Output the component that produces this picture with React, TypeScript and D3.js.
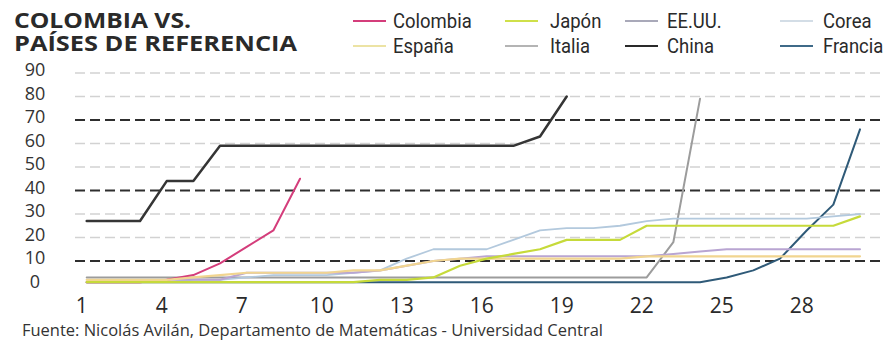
import React from "react";
import * as d3 from "d3";

// Days since the first reported case
const days: number[] = d3.range(1, 31);

// Cumulative confirmed cases per country, one value per day
const colombia = [1, 1, 1, 2, 4, 9, 16, 23, 45];
const espana = [2, 2, 2, 2, 3, 4, 5, 5, 5, 5, 6, 6, 8, 10, 11, 11, 11, 11, 11, 11, 11, 12, 12, 12, 12, 12, 12, 12, 12, 12];
const japon = [1, 1, 1, 1, 1, 1, 1, 1, 1, 1, 1, 2, 2, 3, 8, 11, 13, 15, 19, 19, 19, 25, 25, 25, 25, 25, 25, 25, 25, 29];
const italia = [3, 3, 3, 3, 3, 3, 3, 3, 3, 3, 3, 3, 3, 3, 3, 3, 3, 3, 3, 3, 3, 3, 18, 79];
const eeuu = [1, 1, 1, 2, 2, 2, 5, 5, 5, 5, 5, 6, 8, 10, 11, 12, 12, 12, 12, 12, 12, 12, 13, 14, 15, 15, 15, 15, 15, 15];
const china = [27, 27, 27, 44, 44, 59, 59, 59, 59, 59, 59, 59, 59, 59, 59, 59, 59, 63, 80];
const corea = [1, 1, 1, 1, 2, 2, 3, 4, 4, 4, 5, 6, 11, 15, 15, 15, 19, 23, 24, 24, 25, 27, 28, 28, 28, 28, 28, 28, 29, 30];
const francia = [1, 1, 1, 1, 1, 1, 1, 1, 1, 1, 1, 1, 1, 1, 1, 1, 1, 1, 1, 1, 1, 1, 1, 1, 3, 6, 11, 23, 34, 66];

// Axis ticks
const yTicks = [0, 10, 20, 30, 40, 50, 60, 70, 80, 90];
const strongTicks = [10, 40, 70];
const xTicks = [1, 4, 7, 10, 13, 16, 19, 22, 25, 28];

type Series = {
  name: string;
  values: number[];
  color: string;
  legendColor: string;
  width: number;
  row: number;
  col: number;
};

// Listed in drawing order (later ones on top)
const series: Series[] = [
  { name: "Francia", values: francia, color: "#2f5a78", legendColor: "#3f6a88", width: 2, row: 1, col: 3 },
  { name: "Italia", values: italia, color: "#9c9c9c", legendColor: "#b4b4b4", width: 2, row: 1, col: 1 },
  { name: "Corea", values: corea, color: "#b3c9dd", legendColor: "#d3dde6", width: 1.8, row: 0, col: 3 },
  { name: "EE.UU.", values: eeuu, color: "#b9a5d2", legendColor: "#a9a9b9", width: 2, row: 0, col: 2 },
  { name: "Colombia", values: colombia, color: "#d43d7b", legendColor: "#d43d7b", width: 2, row: 0, col: 0 },
  { name: "España", values: espana, color: "#f1d590", legendColor: "#ece3a4", width: 2.2, row: 1, col: 0 },
  { name: "Japón", values: japon, color: "#c6da3a", legendColor: "#cfe04a", width: 2.2, row: 0, col: 1 },
  { name: "China", values: china, color: "#353535", legendColor: "#2a2a2a", width: 2.5, row: 1, col: 2 },
];

const W = 885;
const H = 345;

const legendLineX = [353, 505, 625, 780];
const legendTextX = [393, 550, 667, 823];
const legendRowY = [21, 46];

export default function App() {
  const x = d3.scaleLinear().domain([1, 30]).range([86.7, 860]);
  const y = d3.scaleLinear().domain([0, 90]).range([284.5, 73]);
  const line = d3
    .line<number>()
    .x((_, i) => x(days[i]))
    .y((v) => y(v));

  const textFont = "'Open Sans', 'DejaVu Sans', sans-serif";

  return (
    <svg
      width={W}
      height={H}
      viewBox={`0 0 ${W} ${H}`}
      style={{ position: "absolute", left: 0, top: 0, background: "#fff" }}
    >
      <rect width={W} height={H} fill="#fff" />

      {/* Title */}
      <g fontFamily={textFont} fontWeight={700} fontSize={22} fill="#2a2a2a">
        <text x={14} y={28} textLength={177} lengthAdjust="spacingAndGlyphs">COLOMBIA VS.</text>
        <text x={14} y={51} textLength={283} lengthAdjust="spacingAndGlyphs">PAÍSES DE REFERENCIA</text>
      </g>

      {/* Legend: narrow labels */}
      <g fontFamily="'Roboto', sans-serif" fontSize={21} fill="#2a2a2a">
        {series.map((s) => (
          <g key={s.name}>
            <line
              x1={legendLineX[s.col]}
              x2={legendLineX[s.col] + 33}
              y1={legendRowY[s.row]}
              y2={legendRowY[s.row]}
              stroke={s.legendColor}
              strokeWidth={2}
            />
            <text transform={`translate(${legendTextX[s.col]},${legendRowY[s.row] + 7}) scale(0.88,1)`}>
              {s.name}
            </text>
          </g>
        ))}
      </g>

      {/* Grid */}
      {yTicks
        .filter((v) => v > 0)
        .map((v) => {
          const strong = strongTicks.includes(v);
          return (
            <line
              key={v}
              x1={75}
              x2={880}
              y1={y(v)}
              y2={y(v)}
              stroke={strong ? "#2e2e2e" : "#d2d2d2"}
              strokeWidth={strong ? 2 : 1.5}
              strokeDasharray="10 5"
            />
          );
        })}

      {/* Y axis labels */}
      <g fontFamily={textFont} fontSize={18} fill="#333" textAnchor="middle">
        {yTicks.map((v) => (
          <text key={v} x={35} y={y(v) + 3}>
            {v}
          </text>
        ))}
      </g>

      {/* X axis labels */}
      <g fontFamily={textFont} fontSize={21} fill="#2a2a2a" textAnchor="middle">
        {xTicks.map((d) => (
          <text key={d} x={x(d) - 5} y={313}>
            {d}
          </text>
        ))}
      </g>

      {/* Series */}
      <g fill="none" strokeLinejoin="round" strokeLinecap="round">
        {series.map((s) => (
          <path key={s.name} d={line(s.values) ?? ""} stroke={s.color} strokeWidth={s.width} />
        ))}
      </g>

      {/* Source */}
      <text x={22} y={336} fontFamily={textFont} fontSize={16} fill="#333" textLength={581} lengthAdjust="spacingAndGlyphs">
        Fuente: Nicolás Avilán, Departamento de Matemáticas - Universidad Central
      </text>
    </svg>
  );
}
